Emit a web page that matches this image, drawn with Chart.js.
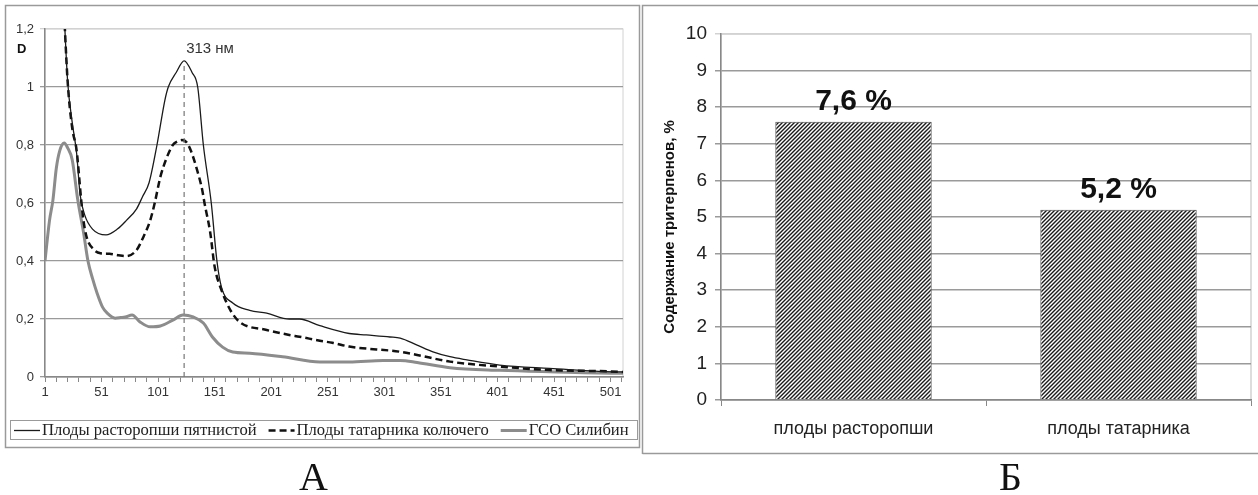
<!DOCTYPE html>
<html>
<head>
<meta charset="utf-8">
<script src="https://cdn.jsdelivr.net/npm/chart.js@4.4.0/dist/chart.umd.min.js"></script>
<style>
body { margin: 0; background: #fff; width: 1258px; height: 495px; overflow: hidden; position: relative; }
.box { position: absolute; top: 0; height: 460px; }
#left { left: 0; width: 645px; }
#right { left: 641px; width: 617px; }
.letter { position: absolute; top: 457px; line-height: 40px; font-family: "Liberation Serif", "Times New Roman", serif; font-size: 40px; color: #111; }
</style>
</head>
<body>
<div class="box" id="left"><canvas id="spectra"></canvas></div>
<div class="box" id="right"><canvas id="content"></canvas></div>
<div class="letter" style="left:299px">А</div>
<div class="letter" style="left:999px">Б</div>

<script>
// --- данные: спектры (номер точки -> оптическая плотность D) ---
const thistleX = [17, 21, 25, 29, 32, 36, 43, 55, 65, 73, 82, 87, 93, 100, 107, 110, 117, 124, 131, 136, 141, 148, 153, 157, 167, 182, 197, 217, 226, 244, 270, 285, 306, 315, 330, 344, 359, 374, 403, 447, 509, 512];
const thistleY = [1.33, 1.02, 0.88, 0.77, 0.63, 0.56, 0.51, 0.49, 0.51, 0.54, 0.58, 0.62, 0.67, 0.80, 0.955, 1.00, 1.05, 1.09, 1.05, 1.00, 0.80, 0.60, 0.40, 0.31, 0.255, 0.23, 0.22, 0.20, 0.20, 0.177, 0.15, 0.145, 0.138, 0.134, 0.11, 0.087, 0.07, 0.059, 0.041, 0.03, 0.018, 0.018];

const tatarX = [17, 21, 25, 29, 33, 35, 38, 44, 50, 58, 66, 73, 82, 88, 94, 98, 103, 108, 114, 118, 122, 126, 130, 135, 140, 142, 147, 151, 157, 165, 173, 197, 217, 226, 244, 255, 270, 315, 330, 359, 403, 447, 509, 512];
const tatarY = [1.33, 1.02, 0.86, 0.78, 0.61, 0.54, 0.48, 0.44, 0.427, 0.425, 0.42, 0.417, 0.438, 0.483, 0.54, 0.60, 0.69, 0.75, 0.80, 0.812, 0.817, 0.81, 0.78, 0.72, 0.645, 0.60, 0.50, 0.38, 0.30, 0.23, 0.19, 0.162, 0.145, 0.139, 0.125, 0.118, 0.105, 0.087, 0.076, 0.053, 0.036, 0.024, 0.018, 0.017];

const silibinX = [1, 5, 8, 11, 14, 18, 21, 25, 30, 35, 39, 43, 47, 52, 56, 63, 68, 72, 78, 85, 94, 103, 114, 123, 132, 141, 149, 158, 167, 182, 211, 244, 270, 300, 315, 330, 359, 403, 447, 509, 512];
const silibinY = [0.40, 0.54, 0.61, 0.72, 0.78, 0.807, 0.79, 0.75, 0.61, 0.50, 0.40, 0.34, 0.29, 0.24, 0.22, 0.203, 0.205, 0.207, 0.214, 0.19, 0.173, 0.176, 0.196, 0.214, 0.207, 0.186, 0.138, 0.103, 0.086, 0.082, 0.07, 0.052, 0.052, 0.057, 0.057, 0.05, 0.032, 0.023, 0.018, 0.013, 0.013];

const peakX = [124, 124];
const peakY = [0, 1.09];
const peakLabel = "313 нм";

const spectraTickLabels = [1, 51, 101, 151, 201, 251, 301, 351, 401, 451, 501];
const spectraYTicks = [0, 0.2, 0.4, 0.6, 0.8, 1, 1.2];
const legendNames = ["Плоды расторопши пятнистой", "Плоды татарника колючего", "ГСО Силибин"];

// --- данные: содержание тритерпенов ---
const fruitNames = ["плоды расторопши", "плоды татарника"];
const triterpenes = [7.6, 5.2];
const triterpenLabels = ["7,6 %", "5,2 %"];

const SANS = '"Liberation Sans", Arial, sans-serif';
const SERIF = '"Liberation Serif", "Times New Roman", serif';

function toPoints(xs, ys) {
    return xs.map((x, i) => ({ x: x, y: ys[i] }));
}

// --- 1. спектры ---
const spectraPlugin = {
    id: "spectraExtras",
    beforeDraw(chart) {
        const { ctx, chartArea: a } = chart;
        ctx.save();
        ctx.strokeStyle = "#d2d2d2";
        ctx.lineWidth = 1;
        ctx.strokeRect(a.left, a.top, a.right - a.left, a.bottom - a.top);
        ctx.restore();
    },
    afterDraw(chart) {
        const { ctx } = chart;
        const xs = chart.scales.x, ys = chart.scales.y;
        ctx.save();
        // рамка панели
        ctx.strokeStyle = "#9a9a9a";
        ctx.lineWidth = 1.5;
        ctx.strokeRect(5.5, 5.5, 634, 442);
        // подпись оси D
        ctx.fillStyle = "#111";
        ctx.font = "bold 13px " + SANS;
        ctx.textBaseline = "middle";
        ctx.fillText("D", 17, 49);
        // подпись пика
        ctx.fillStyle = "#333";
        ctx.font = "15px " + SANS;
        ctx.fillText(peakLabel, xs.getPixelForValue(peakX[0]) + 2, ys.getPixelForValue(1.13));
        // легенда
        ctx.strokeStyle = "#9a9a9a";
        ctx.lineWidth = 1;
        ctx.strokeRect(10.5, 420.5, 627, 19);
        ctx.font = "16.6px " + SERIF;
        ctx.textBaseline = "middle";
        let x = 14;
        const y = 430.5;
        chart.data.datasets.forEach(ds => {
            if (!ds.legendText) return;
            ctx.strokeStyle = ds.borderColor;
            ctx.lineWidth = ds.borderWidth;
            ctx.setLineDash(ds.borderDash || []);
            ctx.beginPath();
            ctx.moveTo(x, y);
            ctx.lineTo(x + 26, y);
            ctx.stroke();
            ctx.setLineDash([]);
            ctx.fillStyle = "#222";
            ctx.fillText(ds.legendText, x + 28, y);
            x += 28 + ctx.measureText(ds.legendText).width + 12;
        });
        ctx.restore();
    }
};

new Chart(document.getElementById("spectra"), {
    type: "line",
    data: {
        datasets: [
            {
                data: toPoints(peakX, peakY),
                borderColor: "#777", borderWidth: 1.2, borderDash: [5, 4], pointRadius: 0
            },
            {
                legendText: legendNames[0],
                data: toPoints(thistleX, thistleY),
                borderColor: "#1a1a1a", borderWidth: 1.3, pointRadius: 0,
                cubicInterpolationMode: "monotone"
            },
            {
                legendText: legendNames[1],
                data: toPoints(tatarX, tatarY),
                borderColor: "#111", borderWidth: 2.5, borderDash: [7, 4], pointRadius: 0,
                cubicInterpolationMode: "monotone"
            },
            {
                legendText: legendNames[2],
                data: toPoints(silibinX, silibinY),
                borderColor: "#8c8c8c", borderWidth: 3, pointRadius: 0,
                cubicInterpolationMode: "monotone"
            }
        ]
    },
    options: {
        responsive: true,
        maintainAspectRatio: false,
        animation: false,
        layout: { padding: { top: 29, right: 22, bottom: 53, left: 0 } },
        plugins: { legend: { display: false }, tooltip: { enabled: false } },
        scales: {
            x: {
                type: "linear", min: 1, max: 512,
                afterBuildTicks: s => {
                    const t = [];
                    for (let v = 1; v <= 511; v += 10) t.push({ value: v });
                    s.ticks = t;
                },
                afterFit: s => { s.height = 30; },
                border: { color: "#888", width: 1.5 },
                grid: { drawOnChartArea: false, drawTicks: true, tickLength: 5, color: "#888", lineWidth: 1 },
                ticks: {
                    autoSkip: false, maxRotation: 0, padding: 3,
                    color: "#333", font: { family: SANS, size: 13 },
                    callback: v => spectraTickLabels.includes(v) ? String(v) : ""
                }
            },
            y: {
                min: 0, max: 1.2,
                afterBuildTicks: s => { s.ticks = spectraYTicks.map(v => ({ value: v })); },
                afterFit: s => { s.width = 45; },
                border: { color: "#888", width: 1.5 },
                grid: {
                    color: c => (c.tick && c.tick.value === 1.2) ? "#d2d2d2" : "#9a9a9a",
                    lineWidth: 1.3, tickLength: 5
                },
                ticks: {
                    padding: 6, color: "#333", font: { family: SANS, size: 13 },
                    callback: v => String(Math.round(v * 10) / 10).replace(".", ",")
                }
            }
        }
    },
    plugins: [spectraPlugin]
});

// --- 2. столбцы ---
function makeHatch() {
    const c = document.createElement("canvas");
    c.width = 4; c.height = 4;
    const g = c.getContext("2d");
    g.fillStyle = "#fff";
    g.fillRect(0, 0, 4, 4);
    g.strokeStyle = "#1a1a1a";
    g.lineWidth = 1.4;
    g.beginPath();
    g.moveTo(0, 4); g.lineTo(4, 0);
    g.moveTo(-1, 1); g.lineTo(1, -1);
    g.moveTo(3, 5); g.lineTo(5, 3);
    g.stroke();
    return g.createPattern(c, "repeat");
}

const barPlugin = {
    id: "barExtras",
    beforeDraw(chart) {
        const { ctx, chartArea: a } = chart;
        ctx.save();
        ctx.strokeStyle = "#d2d2d2";
        ctx.lineWidth = 1.5;
        ctx.strokeRect(a.left, a.top, a.right - a.left, a.bottom - a.top);
        ctx.restore();
    },
    afterDatasetsDraw(chart) {
        const { ctx } = chart;
        ctx.save();
        ctx.fillStyle = "#111";
        ctx.font = "bold 30px " + SANS;
        ctx.textAlign = "center";
        ctx.textBaseline = "alphabetic";
        chart.getDatasetMeta(0).data.forEach((bar, i) => {
            ctx.fillText(triterpenLabels[i], bar.x, bar.y - 12);
        });
        ctx.restore();
    },
    afterDraw(chart) {
        const { ctx } = chart;
        ctx.save();
        // рамка панели
        ctx.strokeStyle = "#9a9a9a";
        ctx.lineWidth = 1.5;
        ctx.beginPath();
        ctx.moveTo(1.5, 454); ctx.lineTo(1.5, 5.5); ctx.lineTo(617, 5.5);
        ctx.moveTo(1.5, 453.5); ctx.lineTo(617, 453.5);
        ctx.stroke();
        // подпись оси
        ctx.translate(29, 227);
        ctx.rotate(-Math.PI / 2);
        ctx.fillStyle = "#111";
        ctx.font = "bold 15px " + SANS;
        ctx.textAlign = "center";
        ctx.textBaseline = "middle";
        ctx.fillText("Содержание тритерпенов, %", 0, 0);
        ctx.restore();
    }
};

new Chart(document.getElementById("content"), {
    type: "bar",
    data: {
        labels: fruitNames,
        datasets: [{
            data: triterpenes,
            backgroundColor: makeHatch(),
            borderColor: "#444",
            borderWidth: 1,
            barPercentage: 0.59,
            categoryPercentage: 1
        }]
    },
    options: {
        responsive: true,
        maintainAspectRatio: false,
        animation: false,
        layout: { padding: { top: 34, right: 7, bottom: 20, left: 0 } },
        plugins: { legend: { display: false }, tooltip: { enabled: false } },
        scales: {
            x: {
                afterFit: s => { s.height = 40; },
                border: { color: "#888", width: 1.5 },
                grid: { drawOnChartArea: false, drawTicks: true, tickLength: 6, color: "#888" },
                ticks: { padding: 12, color: "#222", font: { family: SANS, size: 18 } }
            },
            y: {
                min: 0, max: 10,
                afterFit: s => { s.width = 80; },
                border: { color: "#888", width: 1.5 },
                grid: {
                    color: c => (c.tick && c.tick.value === 10) ? "#d2d2d2" : "#9a9a9a",
                    lineWidth: 1.5, tickLength: 6
                },
                ticks: { stepSize: 1, padding: 8, color: "#222", font: { family: SANS, size: 19 } }
            }
        }
    },
    plugins: [barPlugin]
});
</script>
</body>
</html>
